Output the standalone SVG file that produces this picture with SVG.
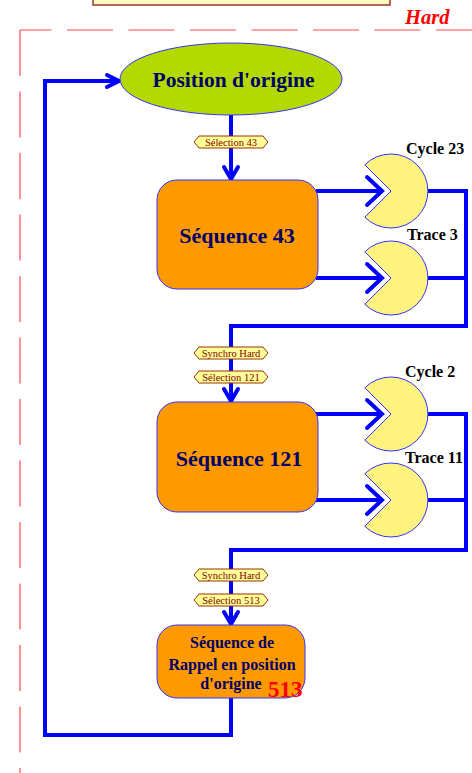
<svg xmlns="http://www.w3.org/2000/svg" width="472" height="773" viewBox="0 0 472 773">
<defs>
<style>
.frame{fill:none;stroke:#ff4d4d;stroke-width:1.2;stroke-dasharray:46 15.5}
.conn{fill:none;stroke:#0000ff;stroke-width:4;stroke-linejoin:miter;stroke-linecap:square}
.chev{fill:none;stroke:#0000ff;stroke-width:4;stroke-linecap:round;stroke-linejoin:miter}
.box{fill:#ff9900;stroke:#3333ff;stroke-width:1}
.pac{fill:#fff380;stroke:#3333ff;stroke-width:1}
.tag{fill:#ffff99;stroke:#993300;stroke-width:1}
.tagt{font-family:"Liberation Serif",serif;font-size:10.5px;fill:#800000;text-anchor:middle}
.big{font-family:"Liberation Serif",serif;font-weight:bold;fill:#000066;text-anchor:middle}
.lab{font-family:"Liberation Serif",serif;font-weight:bold;font-size:16px;fill:#000000}
</style>
<polygon id="tagshape" class="tag" points="-37,0 -32,-6 32,-6 37,0 32,6 -32,6"/>
</defs>

<g id="header">
<rect x="93" y="-4" width="297" height="9" fill="#ffffc0" stroke="#993333" stroke-width="1.5"/>
<text x="405" y="24" font-family="Liberation Serif,serif" font-weight="bold" font-style="italic" font-size="20.5" fill="#ff0000">Hard</text>
<line class="frame" x1="20" y1="30" x2="472" y2="30" style="stroke-dashoffset:14.5"/>
<line class="frame" x1="20" y1="30" x2="20" y2="773"/>
</g>

<g id="connectors">
<line class="conn" x1="231" y1="115" x2="231" y2="178"/>
<polyline class="chev" points="224,167 231,179 238,167"/>
<line class="conn" x1="318" y1="191" x2="381" y2="191"/>
<polyline class="chev" points="367,177 382,191 367,205"/>
<line class="conn" x1="318" y1="278" x2="381" y2="278"/>
<polyline class="chev" points="367,264 382,278 367,292"/>
<polyline class="conn" points="429,191 466,191 466,326 231,326 231,400"/>
<line class="conn" x1="429" y1="278" x2="466" y2="278"/>
<polyline class="chev" points="224,389 231,401 238,389"/>
<line class="conn" x1="318" y1="414" x2="381" y2="414"/>
<polyline class="chev" points="367,400 382,414 367,428"/>
<line class="conn" x1="318" y1="500" x2="381" y2="500"/>
<polyline class="chev" points="367,486 382,500 367,514"/>
<polyline class="conn" points="429,414 466,414 466,550 231,550 231,623"/>
<line class="conn" x1="429" y1="500" x2="466" y2="500"/>
<polyline class="chev" points="224,612 231,624 238,612"/>
<polyline class="conn" points="231,698 231,735 45,735 45,81 118,81"/>
<polyline class="chev" points="107,75 119,81 107,87"/>
</g>

<g id="tags">
<use href="#tagshape" x="231" y="142"/>
<text class="tagt" x="231" y="145.5">Sélection 43</text>
<use href="#tagshape" x="231" y="353"/>
<text class="tagt" x="231" y="356.5">Synchro Hard</text>
<use href="#tagshape" x="231" y="377"/>
<text class="tagt" x="231" y="380.5">Sélection 121</text>
<use href="#tagshape" x="231" y="575"/>
<text class="tagt" x="231" y="578.5">Synchro Hard</text>
<use href="#tagshape" x="231" y="600"/>
<text class="tagt" x="231" y="603.5">Sélection 513</text>
</g>

<g id="origin">
<ellipse cx="231" cy="79" rx="111" ry="36" fill="#b3d900" stroke="#3333ff" stroke-width="1"/>
<text class="big" x="233.5" y="87" font-size="21.5">Position d'origine</text>
</g>

<g id="seq43">
<rect class="box" x="157" y="180" width="161" height="109" rx="20"/>
<text class="big" x="237" y="243" font-size="22">Séquence 43</text>
</g>

<g id="cycle23">
<path class="pac" d="M391,191 L364.8,164.8 A37,37 0 1 1 364.8,217.2 Z"/>
<text class="lab" x="406" y="154">Cycle 23</text>
</g>
<g id="trace3">
<path class="pac" d="M391,278 L364.8,251.8 A37,37 0 1 1 364.8,304.2 Z"/>
<text class="lab" x="407" y="240">Trace 3</text>
</g>

<g id="seq121">
<rect class="box" x="157" y="402" width="161" height="110" rx="20"/>
<text class="big" x="239" y="466" font-size="22">Séquence 121</text>
</g>

<g id="cycle2">
<path class="pac" d="M391,414 L364.8,387.8 A37,37 0 1 1 364.8,440.2 Z"/>
<text class="lab" x="405" y="377">Cycle 2</text>
</g>
<g id="trace11">
<path class="pac" d="M391,500 L364.8,473.8 A37,37 0 1 1 364.8,526.2 Z"/>
<text class="lab" x="405" y="463">Trace 11</text>
</g>

<g id="seq513">
<rect class="box" x="157" y="625" width="148" height="73" rx="20"/>
<text class="big" x="232" y="648" font-size="16">Séquence de</text>
<text class="big" x="232" y="670" font-size="16">Rappel en position</text>
<text class="big" x="231" y="689" font-size="16">d'origine</text>
<text x="268" y="697" font-family="Liberation Serif,serif" font-weight="bold" font-size="23" fill="#ff0000">513</text>
</g>
</svg>
